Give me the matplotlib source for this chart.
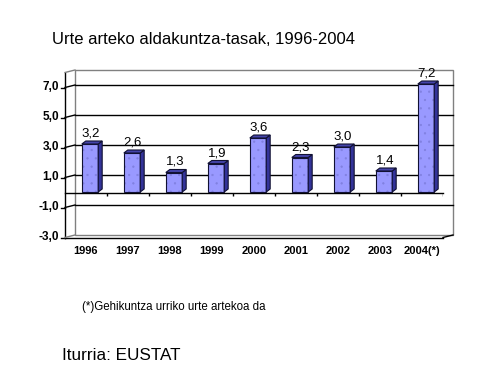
import matplotlib.pyplot as plt
from matplotlib import transforms
from matplotlib.patches import Rectangle, Polygon
from matplotlib.lines import Line2D
import numpy as np

plt.rcParams['font.family'] = ['Liberation Sans', 'DejaVu Sans']
plt.rcParams['hatch.linewidth'] = 0.4

years = ['1996', '1997', '1998', '1999', '2000', '2001', '2002', '2003', '2004(*)']
rates = [3.2, 2.6, 1.3, 1.9, 3.6, 2.3, 3.0, 1.4, 7.2]
y_ticks = [7, 5, 3, 1, -1, -3]
grid_vals = [7, 5, 3, 1, -1]

W, H = 487, 386
fig = plt.figure(figsize=(W / 100, H / 100), dpi=100)
ax = fig.add_axes([65 / W, 1 - 237.5 / H, 378 / W, 165 / H])
ax.set_xlim(-0.5, 8.5)
ax.set_ylim(-3, 8)
ax.axis('off')


def shift(dx, dy, base=None):
    # pixel offset (dpi = 100)
    base = ax.transData if base is None else base
    return base + transforms.ScaledTranslation(dx / 100, dy / 100, fig.dpi_scale_trans)


back = shift(10, 2.5)
bar_t = shift(4, 0.5)

# back wall
ax.add_patch(Rectangle((-0.5, -3), 9, 11, transform=back, facecolor='white',
                       edgecolor='#808080', lw=1, clip_on=False, zorder=1))
for v in grid_vals:
    ax.plot([-0.5, 8.5], [v, v], color='black', lw=1, transform=back,
            clip_on=False, zorder=2)

# front axis + connectors
ax.plot([-0.5, -0.5], [-3, 8], color='black', lw=1, clip_on=False, zorder=3)
for v in y_ticks + [8]:
    p = ax.transData.transform((-0.5, v))
    if v != 8:
        fig.add_artist(Line2D([p[0] - 4, p[0]], [p[1], p[1]], color='black', lw=1,
                              transform=transforms.IdentityTransform()))
    col = 'black' if v in grid_vals else '#808080'
    fig.add_artist(Line2D([p[0], p[0] + 10], [p[1], p[1] + 2.5], color=col, lw=1,
                          transform=transforms.IdentityTransform()))
    if v != 8:
        ax.text(-0.5, v, f'{v:.1f}'.replace('.', ','), transform=shift(-6, 0),
                ha='right', va='center', fontsize=8.5, fontweight='bold')

# bottom front edge
ax.plot([-0.5, 8.5], [-3, -3], color='black', lw=1, clip_on=False, zorder=3)
p = ax.transData.transform((8.5, -3))
fig.add_artist(Line2D([p[0], p[0] + 10], [p[1], p[1] + 2.5], color='black', lw=1,
                      transform=transforms.IdentityTransform()))

# zero line with category ticks
ax.plot([-0.5, 8.5], [0, 0], color='black', lw=1, clip_on=False, zorder=3)
ax.vlines(np.arange(0.5, 9), -0.2, 0, color='black', lw=1, zorder=3)

# 3d bars
bw = 0.39
ddx, ddy = 0.095, 0.2
x = np.arange(len(years))
ax.bar(x, rates, width=bw, color='#9999FF', edgecolor='#8080E0', hatch='..',
       lw=0, transform=bar_t, zorder=4)
ax.bar(x, rates, width=bw, facecolor='none', edgecolor='#111133', lw=0.8,
       transform=bar_t, zorder=5)
for xi, v in zip(x, rates):
    r = xi + bw / 2
    l = xi - bw / 2
    ax.add_patch(Polygon([(r, 0), (r, v), (r + ddx, v + ddy), (r + ddx, ddy)],
                         closed=True, facecolor='#333399', edgecolor='#111133',
                         lw=0.8, transform=bar_t, zorder=5))
    ax.add_patch(Polygon([(l, v), (r, v), (r + ddx, v + ddy), (l + ddx, v + ddy)],
                         closed=True, facecolor='#4444AA', edgecolor='#111133',
                         lw=0.8, transform=bar_t, zorder=5))
    ax.text(xi, v, f'{v:.1f}'.replace('.', ','), transform=shift(5, 5),
            ha='center', va='bottom', fontsize=9.5, zorder=6)

# category labels
for xi, lab in zip(x, years):
    ax.text(xi, -3, lab, transform=shift(0, -14), ha='center', va='center',
            fontsize=8, fontweight='bold')

fig.text(52 / W, 1 - 40 / H, 'Urte arteko aldakuntza-tasak, 1996-2004',
         fontsize=12, va='center', ha='left')
fig.text(82 / W, 1 - 307 / H, '(*)Gehikuntza urriko urte artekoa da',
         fontsize=8.3, va='center', ha='left')
fig.text(62 / W, 1 - 355 / H, 'Iturria: EUSTAT', fontsize=12.3, va='center', ha='left')

fig.savefig('out.png', dpi=100)
